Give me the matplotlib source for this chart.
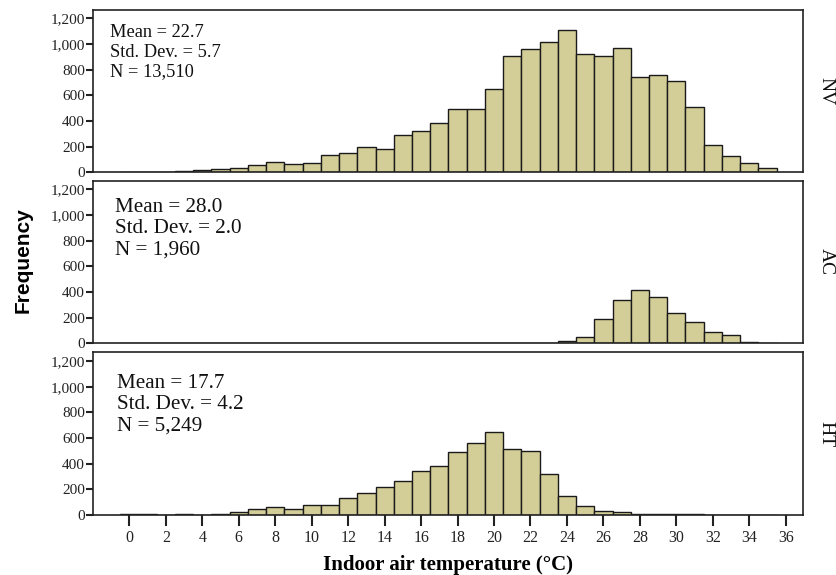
import numpy as np
import matplotlib
matplotlib.use("Agg")
import matplotlib.pyplot as plt
from matplotlib.ticker import FuncFormatter

plt.rcParams['font.family'] = ['Liberation Serif', 'DejaVu Serif']

# bin centres (1 degC bins)
temps = np.arange(0, 36)

# frequencies
nv = [0, 5, 1, 10, 18, 28, 36, 57, 78, 65, 73, 135, 148, 195, 180, 289, 318, 383,
      495, 490, 651, 902, 959, 1017, 1107, 925, 902, 970, 743, 761, 714, 505,
      213, 125, 70, 36]
ac = [0, 0, 0, 0, 0, 0, 0, 0, 0, 0, 0, 0, 0, 0, 0, 0, 0, 3,
      0, 0, 2, 2, 3, 5, 20, 47, 188, 339, 417, 362, 235, 167,
      88, 62, 8, 5]
ht = [5, 10, 0, 5, 3, 10, 21, 44, 59, 49, 78, 80, 132, 173, 220, 266, 344, 385,
      494, 561, 644, 515, 496, 323, 145, 67, 31, 21, 10, 8, 8, 5,
      3, 0, 0, 0]

groups = ['NV', 'AC', 'HT']
counts = [nv, ac, ht]
stats = [('22.7', '5.7', '13,510'), ('28.0', '2.0', '1,960'), ('17.7', '4.2', '5,249')]

yticks = [0, 200, 400, 600, 800, 1000, 1200]
xticks = list(range(0, 37, 2))

bar_col = '#D3CE97'
edge_col = '#1a1a1a'

fig = plt.figure(figsize=(8.37, 5.75), dpi=100)

W, H = 837.0, 575.0
left, right = 93.3, 802.5
panels = [(9.5, 172.3), (180.7, 343.3), (352.3, 515.0)]
# text placement per panel: x (axes frac), first baseline (axes frac), step, size
txt = [(0.023, 0.829, 0.119, 13.2), (0.031, 0.806, 0.129, 15.2), (0.034, 0.779, 0.129, 15.2)]

axes = []
for i, (top, bot) in enumerate(panels):
    ax = fig.add_axes([left / W, 1 - bot / H, (right - left) / W, (bot - top) / H])
    ax.bar(temps, counts[i], width=1.0, color=bar_col, edgecolor=edge_col, linewidth=1.0)
    ax.set_xlim(-1.98, 36.92)
    ax.set_ylim(0, 1268)
    ax.set_yticks(yticks)
    ax.yaxis.set_major_formatter(FuncFormatter(lambda v, p: f'{int(v):,}'))
    ax.tick_params(axis='y', direction='out', length=5, width=1.5, pad=1,
                   labelsize=11, colors='#222222')
    for s in ax.spines.values():
        s.set_linewidth(1.2)
        s.set_color('#222222')
    if i < 2:
        ax.set_xticks([])
    else:
        ax.set_xticks(xticks)
        ax.tick_params(axis='x', direction='out', length=8, width=1.5, pad=3,
                       labelsize=11.5, colors='#222222')
    x0, y0, step, fs = txt[i]
    m, sd, n = stats[i]
    for j, line in enumerate([f'Mean = {m}', f'Std. Dev. = {sd}', f'N = {n}']):
        ax.text(x0, y0 - j * step, line, transform=ax.transAxes, fontsize=fs,
                va='baseline', ha='left', color='#111111')
    ymid = 1 - (top + bot) / 2 / H
    fig.text(826 / W, ymid, groups[i], rotation=-90, ha='center', va='center',
             fontsize=14, color='#111111')
    axes.append(ax)

fig.text(23 / W, 1 - 260 / H, 'Frequency', rotation=90, ha='center', va='center',
         fontsize=15, fontweight='bold', family=['Liberation Sans', 'DejaVu Sans'])
fig.text(448 / W, 1 - 565 / H, 'Indoor air temperature (°C)', ha='center', va='center',
         fontsize=15, fontweight='bold')

fig.savefig('out.png', dpi=100)
